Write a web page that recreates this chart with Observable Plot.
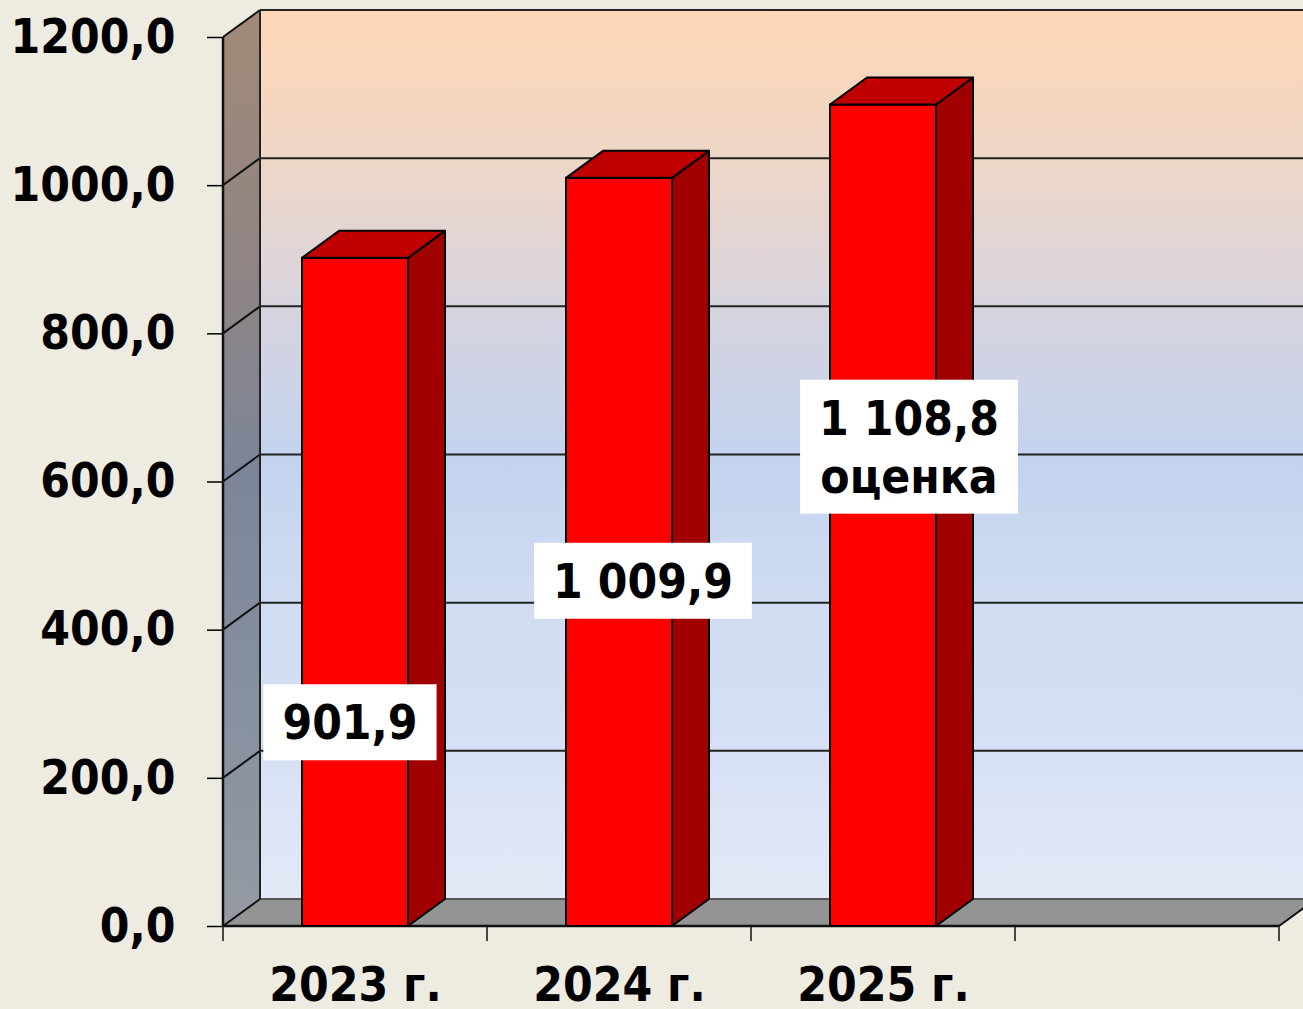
<!DOCTYPE html>
<html><head><meta charset="utf-8">
<script src="https://cdn.jsdelivr.net/npm/d3@7"></script>
<script src="https://cdn.jsdelivr.net/npm/@observablehq/plot@0.6"></script>
<style>
html,body{margin:0;padding:0;background:#EEEBE0;overflow:hidden;}
#chart svg{display:block;}
#chart svg text{font-stretch:condensed;}
</style></head><body><div id="chart"></div>
<script>
// ---- data ----
const categories = ["2023 г.", "2024 г.", "2025 г.", ""];   // 4th slot empty in the original
const values = [901.9, 1009.9, 1108.8];
const valueLabels = [["901,9"], ["1 009,9"], ["1 108,8", "оценка"]];
const yTicks = [0, 200, 400, 600, 800, 1000, 1200];

const bars = values.map((v, i) => ({category: categories[i], value: v, label: valueLabels[i]}));

// ---- style constants ----
const FONT = "'DejaVu Sans', Verdana, sans-serif";
const FS = 47.5;
const DX = 37, DY = -27;          // 3D depth offset in pixels
const INSET = 79;                  // bar inset within band
const labelAnchor = [275, 466, 647];   // label centre (value units)
const labelShift = [-5, 24, 26];       // horizontal label shift (px)

const NS = "http://www.w3.org/2000/svg";
function el(name, attrs, parent) {
  const e = document.createElementNS(NS, name);
  for (const k in attrs) e.setAttribute(k, attrs[k]);
  if (parent) parent.appendChild(e);
  return e;
}
function bw(x) { return x.bandwidth ? x.bandwidth() : 264.5; }

// walls, floor and grid
function walls(index, scales, vals, dims) {
  const {x, y} = scales;
  const g = el("g", {});
  const defs = el("defs", {}, g);
  const grad = el("linearGradient", {id: "backGrad", x1: 0, y1: 0, x2: 0, y2: 1}, defs);
  [[0, "#FED8B6"], [0.17, "#EED6C7"], [0.33, "#D8D4DE"], [0.5, "#C3D3EE"], [0.67, "#CFDCF2"], [0.83, "#D7E0F4"], [1, "#E3E9F6"]]
    .forEach(([o, c]) => el("stop", {offset: o, "stop-color": c}, grad));
  const grad2 = el("linearGradient", {id: "sideGrad", x1: 0, y1: 0, x2: 0, y2: 1}, defs);
  [[0, "#A28A78"], [0.3, "#8E8485"], [0.5, "#7C8598"], [0.75, "#8790A0"], [1, "#959AA3"]]
    .forEach(([o, c]) => el("stop", {offset: o, "stop-color": c}, grad2));

  const x0 = x(categories[0]);
  const x1 = x(categories[categories.length - 1]) + bw(x);
  const y0 = y(0), yTop = y(d3.max(yTicks));
  el("rect", {x: x0 + DX, y: yTop + DY, width: x1 - x0, height: y0 - yTop, fill: "url(#backGrad)"}, g);
  el("path", {d: `M${x0},${y0}L${x0},${yTop}L${x0 + DX},${yTop + DY}L${x0 + DX},${y0 + DY}Z`, fill: "url(#sideGrad)"}, g);
  el("path", {d: `M${x0},${y0}L${x1},${y0}L${x1 + DX},${y0 + DY}L${x0 + DX},${y0 + DY}Z`, fill: "#949494"}, g);
  for (const v of yTicks) {
    const yy = y(v);
    const c = v === 0 ? "#555" : "#222";
    el("line", {x1: x0 + DX, x2: x1 + DX, y1: yy + DY, y2: yy + DY, stroke: c, "stroke-width": 2}, g);
    el("line", {x1: x0, x2: x0 + DX, y1: yy, y2: yy + DY, stroke: "#111", "stroke-width": 2}, g);
  }
  el("line", {x1: x0, x2: x0, y1: y0, y2: yTop, stroke: "#111", "stroke-width": 2.5}, g);
  el("line", {x1: x0 + DX, x2: x0 + DX, y1: y0 + DY, y2: yTop + DY, stroke: "#222", "stroke-width": 2}, g);
  el("line", {x1: x0, x2: x1, y1: y0, y2: y0, stroke: "#111", "stroke-width": 2.5}, g);
  el("line", {x1: x1, x2: x1 + DX, y1: y0, y2: y0 + DY, stroke: "#111", "stroke-width": 2}, g);
  for (let i = 0; i <= categories.length; i++) {
    const xx = x0 + i * bw(x);
    el("line", {x1: xx, x2: xx, y1: y0, y2: y0 + 15, stroke: "#111", "stroke-width": 1.5}, g);
  }
  return g;
}

// bar tops and sides
function bar3d(index, scales) {
  const {x, y} = scales;
  const g = el("g", {stroke: "#000", "stroke-width": 2, "stroke-linejoin": "round"});
  for (const d of bars) {
    const xl = x(d.category) + INSET, xr = x(d.category) + bw(x) - INSET;
    const yt = y(d.value), yb = y(0);
    el("path", {d: `M${xr},${yt}L${xr + DX},${yt + DY}L${xr + DX},${yb + DY}L${xr},${yb}Z`, fill: "#A00000"}, g);
    el("path", {d: `M${xl},${yt}L${xr},${yt}L${xr + DX},${yt + DY}L${xl + DX},${yt + DY}Z`, fill: "#C00000"}, g);
  }
  return g;
}

// value labels in white boxes
const ctx = document.createElement("canvas").getContext("2d");
function labels(index, scales) {
  const {x, y} = scales;
  const g = el("g", {"font-family": FONT, "font-size": FS, "font-weight": "bold"});
  ctx.font = `bold condensed ${FS}px ${FONT}`;
  try { ctx.fontStretch = "condensed"; } catch (e) {}
  bars.forEach((d, i) => {
    const cx = x(d.category) + bw(x) / 2 + labelShift[i];
    const cy = y(labelAnchor[i]);
    const lines = d.label;
    const lh = 58;
    const w = d3.max(lines, t => ctx.measureText(t).width) + 38;
    const h = lines.length * lh + 18;
    el("rect", {x: cx - w / 2, y: cy - h / 2, width: w, height: h, fill: "#fff"}, g);
    lines.forEach((t, j) => {
      const ty = cy - (lines.length - 1) * lh / 2 + j * lh;
      const tx = el("text", {x: cx, y: ty, dy: "0.36em", "text-anchor": "middle", fill: "#000"}, g);
      tx.textContent = t;
    });
  });
  return g;
}

const chart = Plot.plot({
  width: 1303,
  height: 1009,
  marginLeft: 222,
  marginRight: 23,
  marginTop: 37,
  marginBottom: 83,
  style: {background: "#EEEBE0", fontFamily: FONT, color: "#000", overflow: "hidden"},
  x: {type: "band", domain: categories, padding: 0},
  y: {domain: [0, 1200]},
  marks: [
    walls,
    Plot.barY(bars, {x: "category", y: "value", fill: "#FF0000", stroke: "#000", strokeWidth: 2, insetLeft: INSET, insetRight: INSET}),
    bar3d,
    labels,
    Plot.axisY({ticks: yTicks, tickFormat: d => d.toFixed(1).replace(".", ","), tickSize: 15, tickPadding: 32,
      fontSize: FS, fontWeight: "bold", stroke: "#000", strokeWidth: 1.5, label: null}),
    Plot.axisX({tickSize: 0, tickPadding: 41, fontSize: FS, fontWeight: "bold", label: null})
  ]
});
document.getElementById("chart").appendChild(chart);
</script>
</body></html>
